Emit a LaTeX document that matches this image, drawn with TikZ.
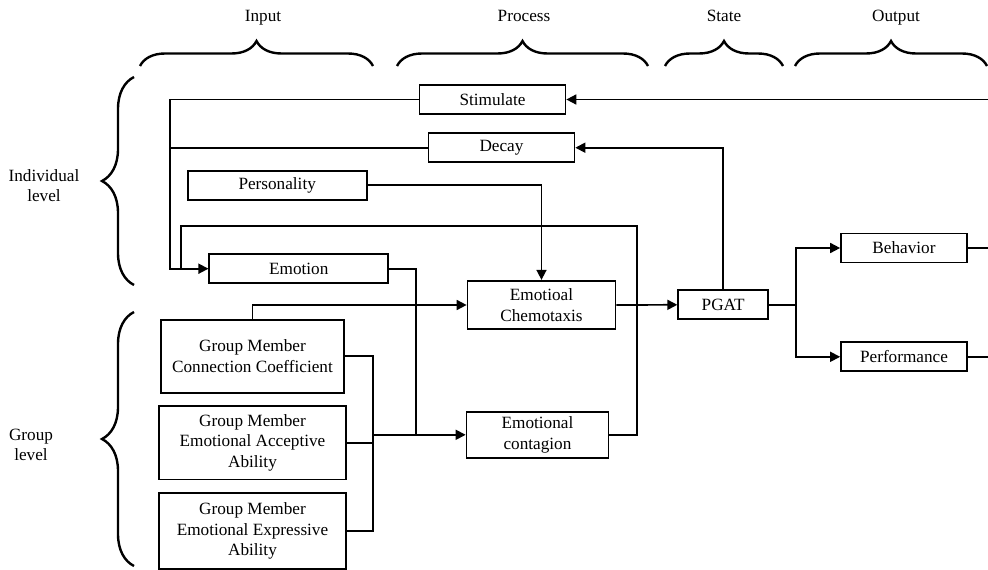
\documentclass[tikz,border=0pt]{standalone}
\usepackage{fontspec}
\setmainfont{Liberation Serif}
\usetikzlibrary{arrows.meta,decorations.pathreplacing}

\begin{document}
\begin{tikzpicture}[
  x=1pt, y=-1pt,
  font=\fontsize{17.2}{20.5}\selectfont,
  box/.style={draw, line width=1.7pt, inner sep=0pt, align=center},
  wire/.style={line width=1.7pt},
  arr/.style={wire, -{Triangle[length=10pt,width=10pt]}},
  curly/.style={line width=2.4pt, decorate, decoration={brace, amplitude=#1}},
  lbl/.style={align=center, inner sep=0pt},
  head/.style={inner sep=0pt, anchor=base}
]
\useasboundingbox (0,0) rectangle (988,570);

% column headings and their braces
\node[head] (hIn)   at (263,21) {Input};
\node[head] (hPro)  at (524,21) {Process};
\node[head] (hSt)   at (724,21) {State};
\node[head] (hOut)  at (896,21) {Output};
\draw[curly=25pt] (140,66) -- (373,66);
\draw[curly=25pt] (397,66) -- (648,66);
\draw[curly=25pt] (665,66) -- (783,66);
\draw[curly=25pt] (795,66) -- (987,66);

% row headings and their braces
\node[lbl] (hInd) at (44,185.5) {Individual\\level};
\node[lbl] (hGrp) at (31,445) {Group\\level};
\draw[curly=32pt] (134,285) -- (134,77);
\draw[curly=32pt] (134,566) -- (134,312);

% blocks
\node[box, minimum width=146pt, minimum height=29pt] (stim) at (492.5,99.5) {Stimulate};
\node[box, minimum width=146pt, minimum height=29pt] (dec)  at (501.5,147.7) {Decay};
\node[box, minimum width=179pt, minimum height=29pt] (pers) at (277.2,185.3) {Personality};
\node[box, minimum width=179pt, minimum height=29pt] (emo)  at (298.8,268.7) {Emotion};
\node[box, minimum width=148pt, minimum height=48.6pt] (chem) at (541.5,305) {Emotioal\\Chemotaxis};
\node[box, minimum width=142pt, minimum height=46.3pt] (cont) at (537.5,434.8) {Emotional\\contagion};
\node[box, minimum width=90pt, minimum height=29pt] (pgat) at (723.2,304.8) {PGAT};
\node[box, minimum width=126pt, minimum height=29pt] (beh)  at (904,248) {Behavior};
\node[box, minimum width=126pt, minimum height=29pt] (perf) at (904,356.8) {Performance};
\node[box, minimum width=183.6pt, minimum height=72.7pt] (gmcc) at (252.5,356.3) {Group Member\\Connection Coefficient};
\node[box, minimum width=186.4pt, minimum height=73.3pt] (gmea) at (252.5,442.7) {Group Member\\Emotional Acceptive\\Ability};
\node[box, minimum width=186.4pt, minimum height=76.6pt] (gmee) at (252.5,531) {Group Member\\Emotional Expressive\\Ability};

% helper points for the routed wires
\coordinate (lbus)  at (170,0);
\coordinate (fbx)   at (181,0);
\coordinate (fbtop) at (637,226);
\coordinate (ebus)  at (416,0);
\coordinate (gbus)  at (373,0);
\coordinate (split) at (796,304.8);
\coordinate (stimR) at (988,99.5);
\coordinate (behR)  at (988,248);
\coordinate (perfR) at (988,356.8);

% individual level wiring
\draw[arr] (stimR) -- (stim.east);
\draw[arr] (stim.west) -- (stim.west -| lbus) |- (emo.west);
\draw[wire] (dec.west) -- (dec.west -| lbus);
\draw[arr] (pgat.north) |- (dec.east);
\draw[arr] (pers.east) -| (chem.north);
\draw[wire] (cont.east) -| (fbtop) -| (fbx |- emo.west);

% group level wiring
\draw[wire] (emo.east) -| (ebus |- cont.west);
\draw[arr] (gmcc.north) |- (chem.west);
\draw[wire] (gmcc.east) -| (gbus |- gmee.east) -- (gmee.east);
\draw[wire] (gmea.east) -- (gmea.east -| gbus);
\draw[arr] (gbus |- cont.west) -- (cont.west);

% state and output
\draw[arr] (chem.east) -- (pgat.west);
\draw[wire] (pgat.east) -- (split);
\draw[arr] (split) |- (beh.west);
\draw[arr] (split) |- (perf.west);
\draw[wire] (beh.east) -- (behR);
\draw[wire] (perf.east) -- (perfR);
\end{tikzpicture}
\end{document}
